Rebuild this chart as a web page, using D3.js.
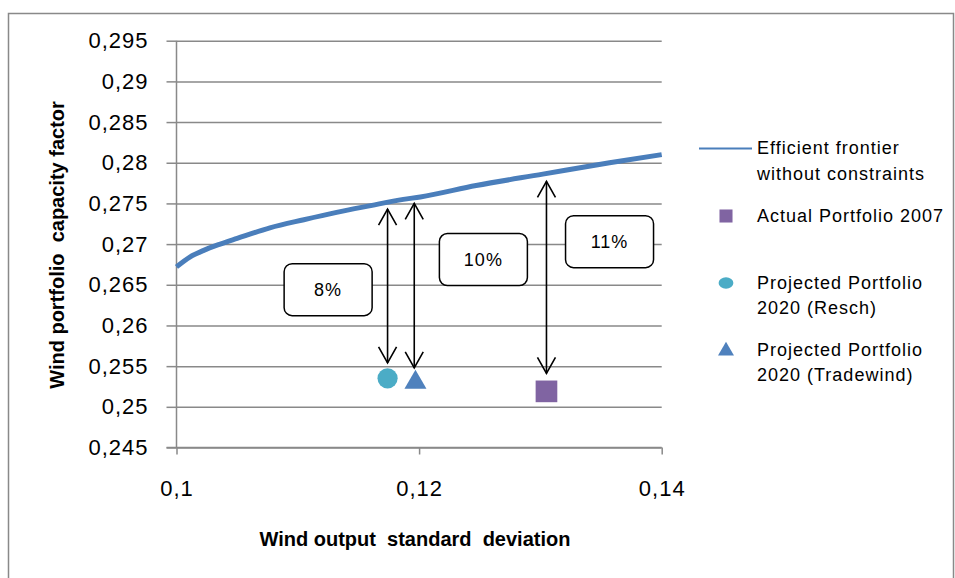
<!DOCTYPE html>
<html lang="en">
<head>
  <meta charset="UTF-8" />
  <title>Wind portfolio efficient frontier</title>
  <script src="https://d3js.org/d3.v7.min.js"></script>
  <style>
    body {
      margin: 0;
      background: #fff;
      font-family: "Liberation Sans", Arial, sans-serif;
    }
    .tick text { fill: #000; letter-spacing: 1px; }
    .axis path, .axis line { stroke: #898989; stroke-width: 1.5; }
    .grid line { stroke: #898989; stroke-width: 1.5; }
    .grid path { display: none; }
    .legend text { font-size: 18px; letter-spacing: 1px; fill: #000; }
    .box text { font-size: 18px; letter-spacing: 1px; fill: #000; }
  </style>
</head>
<body>
<svg id="chart" width="955" height="578"></svg>
<script>
// frontier (std dev, capacity factor)
const frontierX = [0.1000, 0.1011, 0.1022, 0.1036, 0.1050, 0.1077, 0.1105, 0.1132, 0.1159, 0.1187, 0.1201, 0.1247, 0.1302, 0.1357, 0.1400];
const frontierY = [0.2672, 0.2684, 0.2692, 0.2700, 0.2707, 0.2720, 0.2730, 0.2739, 0.2747, 0.2755, 0.2758, 0.2772, 0.2786, 0.2800, 0.2810];

// portfolios
const pointNames = ["Actual Portfolio 2007", "Projected Portfolio 2020 (Resch)", "Projected Portfolio 2020 (Tradewind)"];
const pointX = [0.1305, 0.1174, 0.1197];
const pointY = [0.2519, 0.2535, 0.2530];

// gap arrows and their labels
const arrowX = [0.1174, 0.1196, 0.1305];
const arrowTop = [0.2743, 0.2750, 0.2777];
const arrowBottom = [0.2554, 0.2548, 0.2541];
const gapLabels = ["8%", "10%", "11%"];
const gapLabelX = [0.1125, 0.1253, 0.1357];
const gapLabelY = [0.2644, 0.2681, 0.2703];

const xTicks = [0.1, 0.12, 0.14];
const yTicks = [0.245, 0.25, 0.255, 0.26, 0.265, 0.27, 0.275, 0.28, 0.285, 0.29, 0.295];

const comma = d => String(d).replace(".", ",");

const svg = d3.select("#chart");
const margin = {top: 40.7, left: 176.5, right: 293.3, bottom: 130.5};
const width = +svg.attr("width"), height = +svg.attr("height");

const x = d3.scaleLinear().domain([0.1, 0.14]).range([margin.left, width - margin.right]);
const y = d3.scaleLinear().domain([0.245, 0.295]).range([height - margin.bottom, margin.top]);

// outer frame
svg.append("rect")
  .attr("x", 8.5).attr("y", 13.5).attr("width", 945).attr("height", 600)
  .attr("fill", "none").attr("stroke", "#898989").attr("stroke-width", 1.5);

// gridlines
svg.append("g").attr("class", "grid")
  .attr("transform", `translate(${margin.left},0)`)
  .call(d3.axisLeft(y).tickValues(yTicks).tickSize(-(x(0.14) - x(0.1))).tickFormat(""));

// axes
svg.append("g").attr("class", "axis")
  .attr("transform", `translate(${margin.left},0)`)
  .call(d3.axisLeft(y).tickValues(yTicks).tickSize(10).tickPadding(18).tickFormat(comma))
  .call(g => g.select(".domain").attr("d", `M0,${y(0.295)}V${y(0.245)}`))
  .selectAll("text").attr("font-size", 22).attr("font-family", "Liberation Sans, Arial, sans-serif");

svg.append("g").attr("class", "axis")
  .attr("transform", `translate(0,${y(0.245)})`)
  .call(d3.axisBottom(x).tickValues(xTicks).tickSize(7).tickPadding(26).tickFormat(comma))
  .call(g => g.select(".domain").attr("d", `M${x(0.1) - 10},0H${x(0.14)}`))
  .selectAll("text").attr("font-size", 22).attr("font-family", "Liberation Sans, Arial, sans-serif");

// axis titles
svg.append("text")
  .attr("x", 415).attr("y", 546)
  .attr("text-anchor", "middle")
  .attr("font-size", 20).attr("font-weight", "bold")
  .text("Wind output  standard  deviation")
  .style("white-space", "pre");

svg.append("text")
  .attr("transform", "translate(64,245) rotate(-90)")
  .attr("text-anchor", "middle")
  .attr("font-size", 20).attr("font-weight", "bold")
  .text("Wind portfolio  capacity factor")
  .style("white-space", "pre");

// frontier
const frontier = frontierX.map((v, i) => [v, frontierY[i]]);
svg.append("path")
  .datum(frontier)
  .attr("fill", "none")
  .attr("stroke", "#4a7ebb")
  .attr("stroke-width", 5)
  .attr("d", d3.line().x(d => x(d[0])).y(d => y(d[1])).curve(d3.curveMonotoneX));

// arrows
const arrows = svg.append("g").attr("stroke", "#000").attr("stroke-width", 1.6).attr("fill", "none");
arrowX.forEach((v, i) => {
  const ax = x(v), t = y(arrowTop[i]), b = y(arrowBottom[i]);
  arrows.append("line").attr("x1", ax).attr("x2", ax).attr("y1", t).attr("y2", b);
  arrows.append("path").attr("d", `M${ax - 9},${t + 16}L${ax},${t}L${ax + 9},${t + 16}`);
  arrows.append("path").attr("d", `M${ax - 9},${b - 16}L${ax},${b}L${ax + 9},${b - 16}`);
});

// gap boxes
const boxes = svg.append("g").attr("class", "box");
gapLabels.forEach((lab, i) => {
  const cx = x(gapLabelX[i]), cy = y(gapLabelY[i]);
  boxes.append("rect")
    .attr("x", cx - 44).attr("y", cy - 26).attr("width", 88).attr("height", 52)
    .attr("rx", 8).attr("fill", "#fff").attr("stroke", "#000").attr("stroke-width", 1.5);
  boxes.append("text").attr("x", cx).attr("y", cy).attr("dy", "0.35em")
    .attr("text-anchor", "middle").text(lab);
});

// markers
const sym = [d3.symbolSquare, d3.symbolCircle, d3.symbolTriangle];
const symSize = [470, 320, 210];
const symColor = ["#8064a2", "#4bacc6", "#4f81bd"];
pointX.forEach((v, i) => {
  svg.append("path")
    .attr("transform", `translate(${x(v)},${y(pointY[i])})`)
    .attr("d", d3.symbol(sym[i], symSize[i])())
    .attr("fill", symColor[i]);
});

// legend
const legend = svg.append("g").attr("class", "legend");
legend.append("line").attr("x1", 699).attr("x2", 752).attr("y1", 148.5).attr("y2", 148.5)
  .attr("stroke", "#4a7ebb").attr("stroke-width", 2);
legend.append("text").attr("x", 757).attr("y", 148).attr("dy", "0.35em").text("Efficient frontier");
legend.append("text").attr("x", 757).attr("y", 174).attr("dy", "0.35em").text("without constraints");

const legendRows = [
  {lines: ["Actual Portfolio 2007"], y: 216},
  {lines: ["Projected Portfolio", "2020 (Resch)"], y: 283},
  {lines: ["Projected Portfolio", "2020 (Tradewind)"], y: 350}
];
const legendSize = [170, 130, 110];
legendRows.forEach((r, i) => {
  legend.append("path")
    .attr("transform", `translate(726,${r.y + (i === 2 ? 1 : 0)})` + (i === 1 ? " scale(1.15,0.9)" : ""))
    .attr("d", d3.symbol(sym[i], legendSize[i])())
    .attr("fill", symColor[i]);
  r.lines.forEach((t, j) => {
    legend.append("text").attr("x", 757).attr("y", r.y + j * 25).attr("dy", "0.35em").text(t);
  });
});
</script>
</body>
</html>
